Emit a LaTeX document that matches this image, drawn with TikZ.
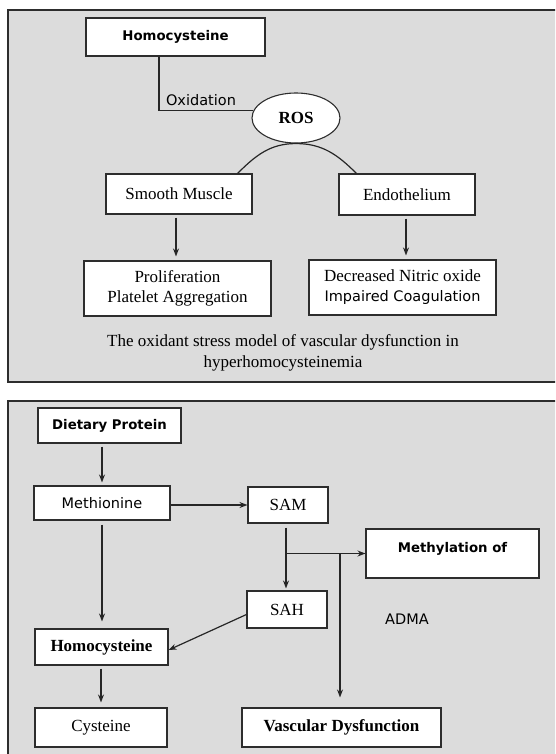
\documentclass[tikz,border=0pt]{standalone}
\usepackage{fontspec}
\setmainfont{Liberation Serif}
\newfontfamily\tahfont{DejaVu Sans}
\usetikzlibrary{arrows.meta,shapes.geometric}
\definecolor{fondo}{RGB}{220,220,220}
\definecolor{bordo}{RGB}{45,45,45}

\tikzset{
  pannello/.style={draw=bordo, line width=1.5pt, fill=fondo},
  casella/.style={draw=bordo, line width=1.1pt, fill=white, inner sep=0pt, align=center},
  serif/.style={font=\fontsize{17}{20}\selectfont},
  serifb/.style={font=\bfseries\fontsize{17}{20}\selectfont},
  sans/.style={font=\tahfont\fontsize{14.5}{20}\selectfont},
  sansb/.style={font=\tahfont\bfseries\fontsize{13.3}{16}\selectfont},
  linea/.style={line width=1.2pt, black!85},
  freccia/.style={linea, -{Stealth[length=8pt,width=6pt]}},
}

\begin{document}
\begin{tikzpicture}[x=1pt,y=1pt]
        \useasboundingbox (0,0) rectangle (555,-754);
        \clip (0,0) rectangle (555,-754);

        % Pannelli di sfondo
        \draw[pannello] (8,-10) rectangle (575,-382);
        \draw[pannello] (8,-401) rectangle (575,-775);

        % Modello dello stress ossidativo
        \node[casella, sansb, minimum width=179, minimum height=38] (homtop) at (175.5,-37) {Homocysteine};
        \node[ellipse, draw=bordo, line width=1.1pt, fill=white, inner sep=0pt,
              minimum width=88, minimum height=50, serifb] (ros) at (296,-118) {ROS};
        \node[casella, serif, minimum width=146, minimum height=40] (sm) at (179,-194) {Smooth Muscle};
        \node[casella, serif, minimum width=136, minimum height=41] (endo) at (407,-194.5) {Endothelium};
        \node[casella, serif, minimum width=187, minimum height=55] (prolif) at (177.5,-288.5)
              {Proliferation\\Platelet Aggregation};
        \node[casella, serif, minimum width=187, minimum height=55] (decr) at (402.5,-287.5)
              {Decreased Nitric oxide\\{\tahfont\fontsize{14.5}{20}\selectfont Impaired Coagulation}};
        \node[sans] (oxid) at (201,-100) {Oxidation};
        \node[align=center, font=\fontsize{17}{21}\selectfont] (didasc) at (283,-352.5)
              {The oxidant stress model of vascular dysfunction in\\hyperhomocysteinemia};

        \draw[linea] ([xshift=-16.5pt]homtop.south) |- (ros.170);
        \draw[linea] ([xshift=-15pt]sm.north east) to[out=45,in=180] (ros.south)
              to[out=0,in=135] ([xshift=18pt]endo.north west);
        \draw[freccia, shorten <=3pt, shorten >=4pt] ([xshift=-3pt]sm.south) -- ([xshift=-3pt]sm.south |- prolif.north);
        \draw[freccia, shorten <=3pt, shorten >=4pt] ([xshift=-1pt]endo.south) -- ([xshift=-1pt]endo.south |- decr.north);

        % Ciclo della metionina
        \node[casella, sansb, minimum width=143, minimum height=35] (diet) at (109.5,-425.5) {Dietary Protein};
        \node[casella, sans, minimum width=136, minimum height=34] (meth) at (102,-503) {Methionine};
        \node[casella, serif, minimum width=80, minimum height=36] (sam) at (288,-505) {SAM};
        \node[casella, sansb, minimum width=173, minimum height=49, text height=10pt, text depth=13pt]
              (methyl) at (452.5,-553.5) {Methylation of};
        \node[casella, serif, minimum width=80, minimum height=37] (sah) at (287,-609.5) {SAH};
        \node[sans] (adma) at (407,-619) {ADMA};
        \node[casella, serifb, minimum width=133, minimum height=36] (homb) at (101.5,-647) {Homocysteine};
        \node[casella, serif, minimum width=132, minimum height=39] (cys) at (101,-727.5) {Cysteine};
        \node[casella, serifb, minimum width=199, minimum height=39] (vasc) at (341.5,-727.5) {Vascular Dysfunction};

        \coordinate (fork) at ([xshift=-2pt]sam.south |- methyl.west);
        \coordinate (drop) at ([xshift=-1.5pt]vasc.north |- methyl.west);

        \draw[freccia, shorten <=3pt, shorten >=3pt] (diet.south -| meth.north) -- (meth.north);
        \draw[freccia] (meth.east |- sam.west) -- (sam.west);
        \draw[freccia, shorten <=4pt, shorten >=7pt] (meth.south) -- (homb.north -| meth.south);
        \draw[freccia, shorten <=4pt, shorten >=2pt] ([xshift=-2pt]sam.south) -- ([xshift=-2pt]sam.south |- sah.north);
        \draw[freccia] (fork) -- (methyl.west);
        \draw[freccia, shorten >=10pt] (drop) -- (vasc.north -| drop);
        \draw[freccia] ([yshift=-5pt]sah.west) -- ([yshift=-3pt]homb.east);
        \draw[freccia, shorten <=3pt, shorten >=5pt] (homb.south -| cys.north) -- (cys.north);
\end{tikzpicture}
\end{document}
